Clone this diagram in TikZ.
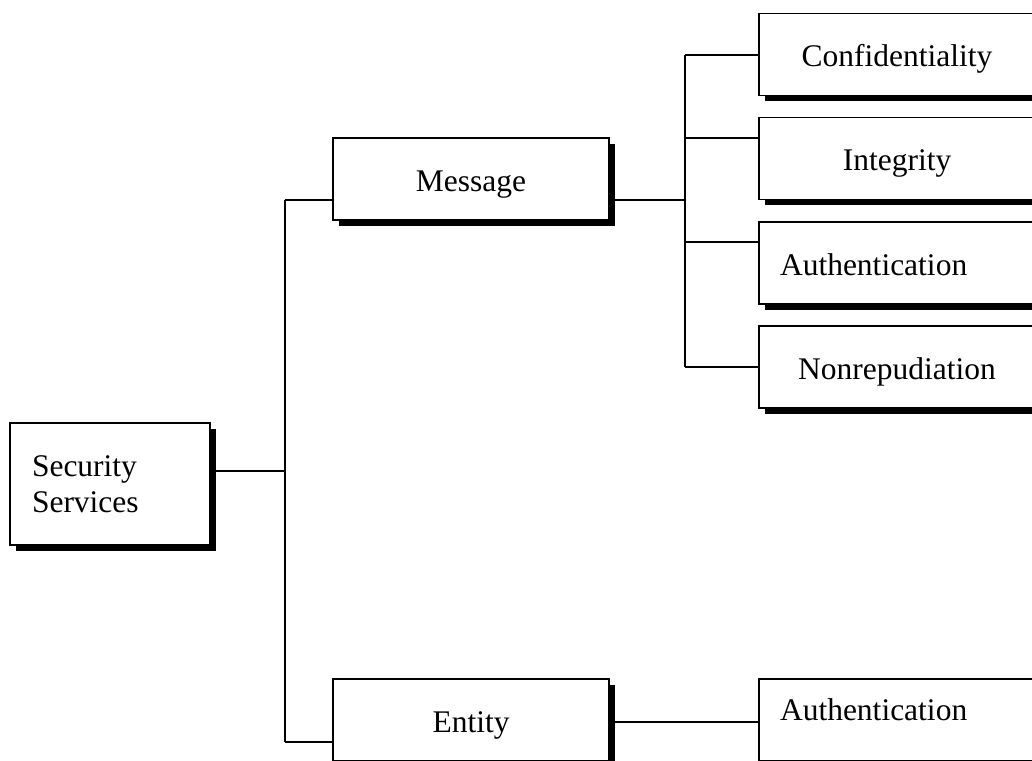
\documentclass[tikz,border=0pt]{standalone}
\usepackage{fontspec}
\setmainfont{Liberation Serif}
\usetikzlibrary{shadows}
\tikzset{
  every node/.style={font=\fontsize{31.5}{36}\selectfont},
  box/.style={draw, line width=1.4pt, fill=white, inner sep=0pt,
    drop shadow={shadow xshift=5.5pt, shadow yshift=-5.5pt, fill=black, opacity=1}},
  svc/.style={box, minimum width=276pt, minimum height=82pt,
    text height=26pt, text depth=2pt},
  wire/.style={line width=1.4pt},
}

\begin{document}
\begin{tikzpicture}[x=1pt,y=-1pt]
\useasboundingbox (0,0) rectangle (1032,760);
\clip (0,0) rectangle (1032,760);

% boxes
\node[box, minimum width=200pt, minimum height=122pt, text width=156pt, align=left] (sec) at (110,484) {Security\\Services};
\node[svc] (msg) at (471,179) {Message};
\node[svc] (ent) at (471,720) {Entity};
\node[svc] (conf) at (897,54.5) {Confidentiality};
\node[svc] (integ) at (897,158.5) {Integrity};
\node[svc, text width=234pt, align=left] (mauth) at (897,263) {Authentication};
\node[svc] (nonrep) at (897,367) {Nonrepudiation};
\node[svc, text width=234pt, align=left, text height=14pt, text depth=14pt] (eauth) at (897,720) {Authentication};

% joints
\coordinate (lspine) at (285,471);
\coordinate (ltop) at (285,200);
\coordinate (lbot) at (285,742);
\coordinate (rspine) at (685,200);
\coordinate (rtop) at (685,55);
\coordinate (rbot) at (685,367);
\coordinate (elink) at (685,722);

\draw[wire] (sec.east |- lspine) -- (lspine);
\draw[wire] (ltop) -- (lbot);
\draw[wire] (ltop) -- (msg.west |- ltop);
\draw[wire] (lbot) -- (ent.west |- lbot);
\draw[wire] (msg.east |- rspine) -- (rspine);
\draw[wire] (rtop) -- (rbot);
\foreach \n/\y in {conf/55,integ/138,mauth/242,nonrep/367}{
  \coordinate (tap-\n) at (685,\y);
  \draw[wire] (tap-\n) -- (\n.west |- tap-\n);
}
\draw[wire] (ent.east |- elink) -- (eauth.west |- elink);
\end{tikzpicture}
\end{document}
